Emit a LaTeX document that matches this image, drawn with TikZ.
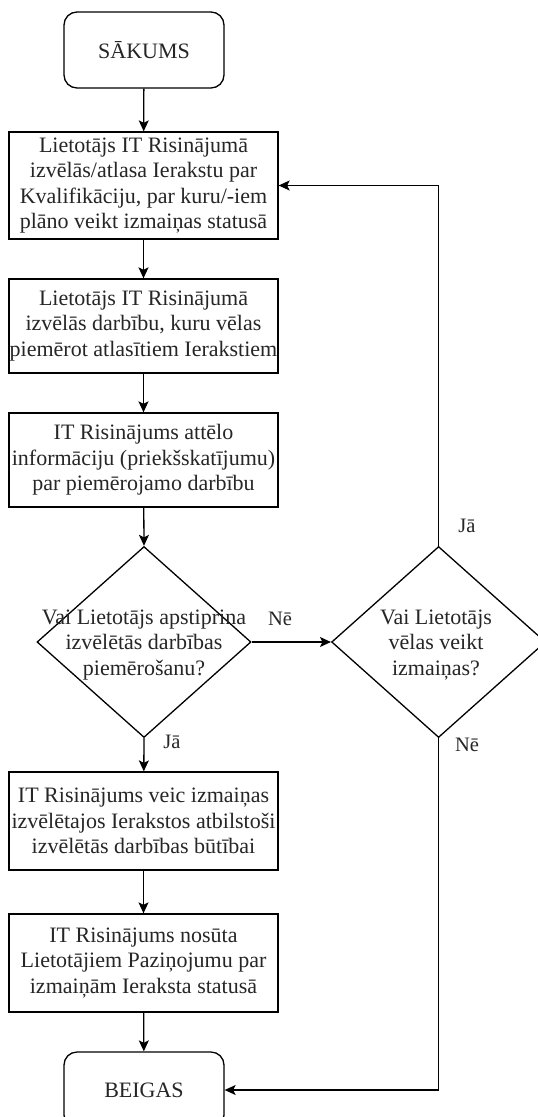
\documentclass[tikz,border=0pt]{standalone}
\usepackage{fontspec}
\setmainfont{Liberation Serif}
\usetikzlibrary{shapes.geometric,arrows.meta}
\begin{document}
\begin{tikzpicture}[x=1pt,y=-1pt,
  txt/.style={font=\fontsize{22}{25.5}\selectfont, align=center, inner sep=0pt, text=black!85},
  box/.style={txt, draw, line width=1.3pt, minimum width=269pt, minimum height=96pt},
  term/.style={txt, draw, line width=1.3pt, rounded corners=13pt, minimum width=160pt, minimum height=76pt},
  dia/.style={draw, diamond, line width=1.3pt, minimum width=214pt, minimum height=191pt, inner sep=0pt},
  lbl/.style={font=\fontsize{20.5}{23}\selectfont, inner sep=0pt, text=black!85},
  arr/.style={line width=1.3pt, -{Stealth[length=11pt,width=10pt,inset=2.5pt]}}
]
\useasboundingbox (0,0) rectangle (538,1117);
\fill[white] (0,0) rectangle (538,1117);

\node[term] (start) at (144,50) {SĀKUMS};
\node[box, minimum height=107pt] (b1) at (143.5,185.5) {Lietotājs IT Risinājumā\\izvēlās/atlasa Ierakstu par\\Kvalifikāciju, par kuru/-iem\\plāno veikt izmaiņas statusā};
\node[box, minimum height=94pt] (b2) at (143.5,326) {Lietotājs IT Risinājumā\\izvēlās darbību, kuru vēlas\\piemērot atlasītiem Ierakstiem};
\node[box, minimum height=94pt] (b3) at (143.5,460) {IT Risinājums attēlo\\informāciju (priekšskatījumu)\\par piemērojamo darbību};
\node[dia] (d1) at (144,642) {};
\node[txt] (d1t) at (144,645) {Vai Lietotājs apstiprina\\izvēlētās darbības\\piemērošanu?};
\node[dia] (d2) at (438.6,642) {};
\node[txt] (d2t) at (436,645) {Vai Lietotājs\\vēlas veikt\\izmaiņas?};
\node[box, minimum height=98pt] (b5) at (143.5,821) {IT Risinājums veic izmaiņas\\izvēlētajos Ierakstos atbilstoši\\izvēlētās darbības būtībai};
\node[box, minimum height=98pt] (b6) at (143.5,963) {IT Risinājums nosūta\\Lietotājiem Paziņojumu par\\izmaiņām Ieraksta statusā};
\node[term] (end) at (144,1090) {BEIGAS};

\node[lbl] (lne1) at (280,619) {Nē};
\node[lbl] (lja1) at (172,742) {Jā};
\node[lbl] (lja2) at (467,526) {Jā};
\node[lbl] (lne2) at (467,745) {Nē};

\draw[arr] (start) -- (b1);
\draw[arr] (b1) -- (b2);
\draw[arr] (b2) -- (b3);
\draw[arr] (b3) -- (d1.north);
\draw[arr] (d1.south) -- (b5);
\draw[arr] (b5) -- (b6);
\draw[arr] (b6) -- (end);
\draw[arr] (d1.east) -- (d2.west);
\draw[arr] (d2.north) |- (b1.east);
\draw[arr] (d2.south) |- (end.east);
\end{tikzpicture}
\end{document}
